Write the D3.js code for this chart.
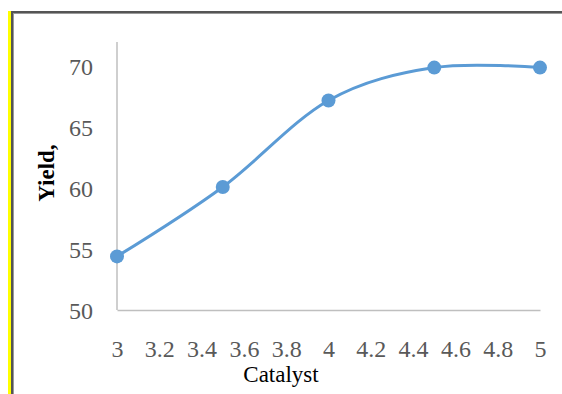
<!DOCTYPE html>
<html>
<head>
<meta charset="utf-8">
<script src="https://cdn.jsdelivr.net/npm/d3@7"></script>
<style>
  html, body { margin: 0; padding: 0; background: #fff; }
  svg { display: block; }
</style>
</head>
<body>
<svg id="chart" width="562" height="394"></svg>
<script>
// Yield versus catalyst amount
const catalyst = [3, 3.5, 4, 4.5, 5];
const yieldValues = [54.4, 60.1, 67.2, 69.9, 69.9];
const xTicks = [3, 3.2, 3.4, 3.6, 3.8, 4, 4.2, 4.4, 4.6, 4.8, 5];
const yTicks = [50, 55, 60, 65, 70];

const svg = d3.select("#chart");
const W = 562, H = 394;
const margin = { left: 117, right: 22, top: 42, bottom: 84 };

const x = d3.scaleLinear().domain([3, 5]).range([margin.left, W - margin.right]);
const y = d3.scaleLinear().domain([50, 72]).range([H - margin.bottom, margin.top]);

// frame: yellow stripe and dark edges
svg.append("rect").attr("x", 8).attr("y", 11).attr("width", 3).attr("height", H - 11).attr("fill", "#ffff00");
svg.append("rect").attr("x", 11).attr("y", 11).attr("width", 2).attr("height", H - 11).attr("fill", "#555555");
svg.append("rect").attr("x", 13).attr("y", 13).attr("width", 1).attr("height", H - 13).attr("fill", "#9a9a9a");
svg.append("rect").attr("x", 11).attr("y", 11).attr("width", W - 11).attr("height", 2).attr("fill", "#555555");
svg.append("rect").attr("x", 13).attr("y", 13).attr("width", W - 13).attr("height", 1).attr("fill", "#9a9a9a");

const font = "'Liberation Serif', 'Times New Roman', serif";

// axes
const xAxis = d3.axisBottom(x).tickValues(xTicks).tickSize(0).tickPadding(47)
  .tickFormat(d3.format("~g"));
const yAxis = d3.axisLeft(y).tickValues(yTicks).tickSize(0).tickPadding(24);

const gx = svg.append("g").attr("transform", `translate(0,${y(50)})`).call(xAxis);
const gy = svg.append("g").attr("transform", `translate(${x(3)},0)`).call(yAxis);

[gx, gy].forEach(g => {
  g.select(".domain").attr("stroke", "#bfbfbf").attr("stroke-width", 1.5);
  g.selectAll(".tick text").attr("fill", "#595959")
    .style("font-family", font).style("font-size", "24px");
});
gy.selectAll(".tick text").attr("dy", "0.35em");
gx.selectAll(".tick text").attr("dy", "0");

// extend y axis line to top of plot
gy.select(".domain").attr("d", `M0,${y(50)}V${margin.top}`);

// axis titles
svg.append("text")
  .attr("x", 281).attr("y", 382)
  .attr("text-anchor", "middle")
  .style("font-family", font).style("font-size", "23px").attr("fill", "#000")
  .text("Catalyst");

svg.append("text")
  .attr("transform", `translate(54,173) rotate(-90)`)
  .attr("text-anchor", "middle")
  .style("font-family", font).style("font-size", "23px").style("font-weight", "bold").attr("fill", "#000")
  .text("Yield,");

// smoothed series line
const pts = catalyst.map((c, i) => [c, yieldValues[i]]);
const line = d3.line().x(d => x(d[0])).y(d => y(d[1])).curve(d3.curveCatmullRom.alpha(0));
svg.append("path").datum(pts)
  .attr("d", line).attr("fill", "none")
  .attr("stroke", "#5b9bd5").attr("stroke-width", 3).attr("stroke-linecap", "round");

svg.selectAll("circle.pt").data(pts).enter().append("circle")
  .attr("class", "pt")
  .attr("cx", d => x(d[0])).attr("cy", d => y(d[1])).attr("r", 7)
  .attr("fill", "#5b9bd5");
</script>
</body>
</html>
